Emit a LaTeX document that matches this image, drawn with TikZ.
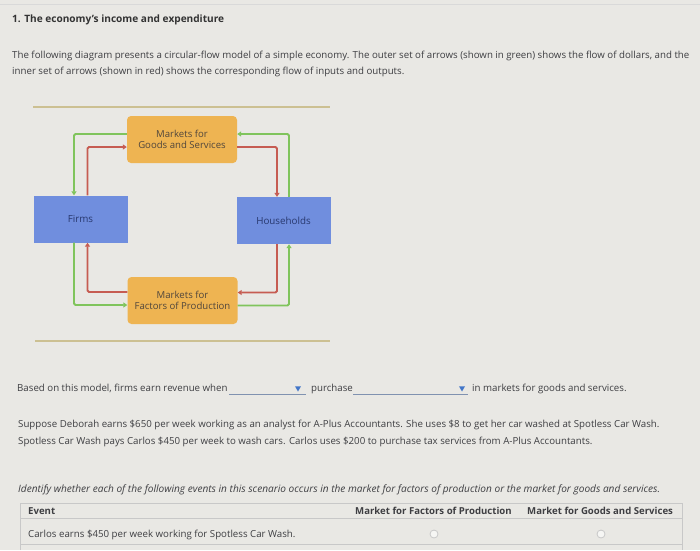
\documentclass[tikz,border=0pt]{standalone}
\usepackage{fontspec}
\setmainfont{Open Sans}
\usetikzlibrary{arrows.meta,shapes.geometric}
\definecolor{bg}{RGB}{233,232,228}
\definecolor{txt}{RGB}{62,62,66}
\definecolor{orangebox}{RGB}{238,180,82}
\definecolor{bluebox}{RGB}{112,142,222}
\definecolor{gflow}{RGB}{128,196,92}
\definecolor{rflow}{RGB}{198,92,82}
\definecolor{rule}{RGB}{204,192,146}
\definecolor{tline}{RGB}{200,200,200}
\definecolor{ddline}{RGB}{128,146,176}
\definecolor{ddtri}{RGB}{66,118,200}
\definecolor{boxtxt}{RGB}{80,70,60}
\definecolor{bluetxt}{RGB}{40,56,110}
\tikzset{
  body/.style={anchor=base west, inner sep=0pt, text=txt, font=\fontsize{9.7}{11}\selectfont},
  mkt/.style={fill=orangebox, rounded corners=4pt, minimum width=110pt, minimum height=47pt, align=center, text=boxtxt, font=\fontsize{9.6}{11}\selectfont, inner sep=0pt},
  agent/.style={fill=bluebox, minimum width=94pt, minimum height=47pt, text=bluetxt, font=\fontsize{9.8}{11}\selectfont, inner sep=0pt},
  gline/.style={draw=gflow, line width=1.8pt, rounded corners=1.5pt, -{Triangle[width=5pt,length=4pt]}},
  rline/.style={draw=rflow, line width=1.8pt, rounded corners=1.5pt, -{Triangle[width=5pt,length=4pt]}},
  ddtick/.style={fill=ddtri, inner sep=0pt, regular polygon, regular polygon sides=3, shape border rotate=180, minimum size=7pt},
  radio/.style={circle, draw=tline, line width=0.8pt, fill=white!60!bg, minimum size=8pt, inner sep=0pt},
  hdr/.style={body, font=\bfseries\fontsize{9.6}{11}\selectfont},
}
\begin{document}
\begin{tikzpicture}[x=1pt,y=-1pt]
\fill[bg] (0,0) rectangle (700,550);
\useasboundingbox (0,0) rectangle (700,550);
\draw[white!85!black, line width=0.6pt] (0,4) -- (700,4);

% title and intro
\node[body, font=\bfseries\fontsize{10.1}{11}\selectfont, text=black!80] (title) at (12,22.5) {1. The economy's income and expenditure};
\node[body] (p1) at (12,58.5) {The following diagram presents a circular-flow model of a simple economy. The outer set of arrows (shown in green) shows the flow of dollars, and the};
\node[body] (p2) at (12,74.5) {inner set of arrows (shown in red) shows the corresponding flow of inputs and outputs.};

% diagram rules
\draw[rule, line width=1.4pt] (33,107) -- (330,107);
\draw[rule, line width=1.4pt] (35,341) -- (330,341);

% boxes
\node[mkt] (goods) at (182,139.5) {Markets for\\Goods and Services};
\node[mkt] (factors) at (182.5,300.5) {Markets for\\Factors of Production};
\node[agent] (firms) at (80.5,219) {Firms};
\node[agent] (house) at (283.5,220.5) {Households};

% flows
\draw[gline] ([yshift=5.5pt]goods.west) -| ([xshift=-6.5pt]firms.north);
\draw[rline] ([xshift=7pt]firms.north) |- ([yshift=-7.5pt]goods.west);
\draw[gline] ([xshift=5.5pt]house.north) |- ([yshift=5.5pt]goods.east);
\draw[rline] ([yshift=-7.5pt]goods.east) -| ([xshift=-6.5pt]house.north);
\draw[rline] ([yshift=8.5pt]factors.west) -| ([xshift=7pt]firms.south);
\draw[gline] ([xshift=-6.5pt]firms.south) |- ([yshift=-4.5pt]factors.west);
\draw[rline] ([xshift=-6.5pt]house.south) |- ([yshift=8pt]factors.east);
\draw[gline] ([yshift=-5pt]factors.east) -| ([xshift=5.5pt]house.south);

% question line
\node[body] (q1) at (17,391.5) {Based on this model, firms earn revenue when};
\coordinate (d1a) at (229,394.5);
\coordinate (d1b) at (306,394.5);
\draw[ddline, line width=0.7pt] (d1a) -- (d1b);
\node[ddtick] (t1) at (298,388) {};
\node[body] (q2) at (311,391.5) {purchase};
\coordinate (d2a) at (353,394.5);
\coordinate (d2b) at (468,394.5);
\draw[ddline, line width=0.7pt] (d2a) -- (d2b);
\node[ddtick] (t2) at (462,388) {};
\node[body] (q3) at (472,391.5) {in markets for goods and services.};

\node[body] (s1) at (18,427.5) {Suppose Deborah earns \$650 per week working as an analyst for A-Plus Accountants. She uses \$8 to get her car washed at Spotless Car Wash.};
\node[body] (s2) at (18,444.5) {Spotless Car Wash pays Carlos \$450 per week to wash cars. Carlos uses \$200 to purchase tax services from A-Plus Accountants.};

\node[body, font=\itshape\fontsize{10.1}{11}\selectfont] (iq) at (18,492.5) {Identify whether each of the following events in this scenario occurs in the market for factors of production or the market for goods and services.};

% table
\draw[tline, line width=0.8pt] (20,550) -- (20,503) -- (682,503) -- (682,550);
\draw[tline, line width=0.8pt] (20,518.5) -- (682,518.5);
\draw[tline, line width=0.8pt] (20,544.5) -- (682,544.5);
\node[hdr] (h1) at (28,514.5) {Event};
\node[hdr] (h2) at (355,514.5) {Market for Factors of Production};
\node[hdr] (h3) at (527,514.5) {Market for Goods and Services};
\node[body] (r1) at (28,537) {Carlos earns \$450 per week working for Spotless Car Wash.};
\node[radio] (c1) at (434,534) {};
\node[radio] (c2) at (601,534) {};
\end{tikzpicture}
\end{document}
